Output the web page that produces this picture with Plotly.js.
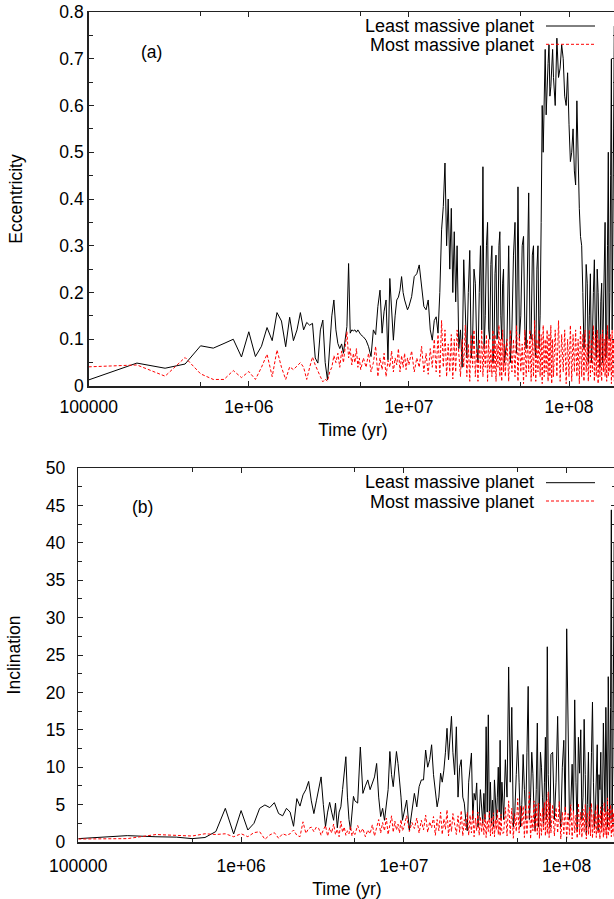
<!DOCTYPE html>
<html><head><meta charset="utf-8">
<script src="https://cdn.plot.ly/plotly-3.0.1.min.js"></script>
<style>
html,body{margin:0;padding:0;overflow:hidden;background:#fff;width:614px;height:899px}
#chart{width:640px;height:899px}
</style></head>
<body><div id="chart"></div>
<script>
// Time samples in Myr
const timeMyr = [
 0.1,0.2,0.3,0.4,0.5,0.6,0.7,0.8,0.9,1.0,1.1,1.2,1.3,1.4,1.5,1.6,1.7,1.8,1.9,2.0,2.1,2.2,2.3,2.4,2.5,2.6,2.7,2.8,2.9,3.0,
 3.1,3.2,3.3,3.4,3.5,3.6,3.7,3.8,3.9,4.0,4.1,4.2,4.3,4.4,4.5,4.6,4.7,4.8,4.9,5.0,
 5.2,5.4,5.6,5.8,6.0,6.2,6.4,6.6,6.8,7.0,7.2,7.4,7.6,7.8,8.0,8.2,8.4,8.6,8.8,9.0,9.2,9.4,9.6,9.8,10.0,
 10.4,10.8,11.2,11.6,12.0,12.4,12.8,13.2,13.6,14.0,14.4,14.8,15.2,15.6,16.0,16.4,16.8,17.2,17.6,18.0,18.4,18.8,19.2,19.6,20.0,
 20.5,21,21.5,22,22.5,23,23.5,24,24.5,25,25.5,26,26.5,27,27.5,28,28.5,29,29.5,30,
 30.5,31,31.5,32,32.5,33,33.5,34,34.5,35,35.5,36,36.5,37,37.5,38,38.5,39,39.5,40,
 41,42,43,44,45,46,47,48,49,50,51,52,53,54,55,56,57,58,59,60,
 61,62,63,64,65,66,67,68,69,70,71,72,73,74,75,76,77,78,79,80,
 82,84,86,88,90,92,94,96,98,100,102,104,106,108,110,112,114,116,118,120,
 122,124,126,128,130,132,134,136,138,140,142,144,146,148,150,152,154,156,158,160,
 162,164,166,168,170,172,174,176,178,180,182,184,186,188,190,192,194,196,198,200
];
// (a) Eccentricity
const eccLeast = [
 0.013,0.049,0.038,0.047,0.086,0.081,0.091,0.100,0.062,0.116,0.063,0.085,0.125,0.097,0.157,0.139,0.084,0.147,0.097,0.12,0.157,0.12,0.136,0.13,0.134,0.06,0.049,0.12,0.141,0.05,
 0.013,0.09,0.15,0.184,0.12,0.091,0.08,0.09,0.07,0.1,0.127,0.262,0.113,0.12,0.118,0.12,0.115,0.12,0.113,0.11,
 0.105,0.098,0.084,0.063,0.12,0.11,0.17,0.205,0.113,0.16,0.184,0.056,0.23,0.15,0.098,0.15,0.184,0.19,0.205,0.234,0.2,0.184,0.17,0.163,0.17,
 0.191,0.234,0.24,0.259,0.212,0.17,0.163,0.184,0.12,0.098,0.14,0.148,0.113,0.2,0.334,0.384,0.477,0.3,0.4,0.25,0.38,0.2,0.33,0.18,0.3,
 0.08,0.12,0.04,0.27,0.15,0.06,0.2,0.29,0.06,0.1,0.25,0.22,0.09,0.05,0.2,0.3,0.12,0.469,0.08,0.15,
 0.3,0.35,0.12,0.1,0.26,0.3,0.05,0.08,0.24,0.28,0.1,0.12,0.3,0.33,0.15,0.1,0.22,0.25,0.05,0.07,
 0.1,0.3,0.05,0.12,0.28,0.35,0.07,0.426,0.1,0.15,0.3,0.32,0.12,0.08,0.25,0.413,0.12,0.1,0.28,0.3,
 0.1,0.06,0.25,0.3,0.08,0.15,0.35,0.6,0.5,0.65,0.72,0.58,0.62,0.69,0.73,0.62,0.64,0.7,0.72,0.66,
 0.6,0.744,0.66,0.68,0.73,0.7,0.62,0.6,0.67,0.56,0.48,0.5,0.55,0.46,0.43,0.61,0.45,0.38,0.32,0.3,
 0.2,0.08,0.12,0.26,0.22,0.05,0.15,0.24,0.05,0.1,0.2,0.27,0.12,0.06,0.25,0.2,0.1,0.04,0.18,0.22,
 0.05,0.15,0.25,0.35,0.06,0.12,0.3,0.5,0.1,0.2,0.45,0.7,0.12,0.3,0.55,0.77,0.2,0.4,0.6,0.75
];
const eccMost = [
 0.041,0.045,0.021,0.061,0.026,0.014,0.014,0.033,0.018,0.031,0.014,0.04,0.068,0.02,0.077,0.04,0.014,0.041,0.035,0.042,0.05,0.04,0.014,0.04,0.062,0.045,0.03,0.02,0.009,0.015,
 0.01,0.03,0.04,0.065,0.05,0.07,0.04,0.075,0.05,0.09,0.116,0.06,0.08,0.045,0.07,0.05,0.08,0.04,0.06,0.035,
 0.06,0.04,0.07,0.03,0.05,0.085,0.02,0.06,0.035,0.07,0.02,0.055,0.04,0.075,0.03,0.06,0.045,0.08,0.03,0.065,0.04,0.07,0.035,0.06,0.045,
 0.075,0.03,0.06,0.04,0.085,0.03,0.07,0.025,0.08,0.04,0.1,0.03,0.11,0.02,0.14,0.04,0.12,0.02,0.09,0.03,0.11,0.015,0.1,0.03,0.12,
 0.06,0.02,0.1,0.04,0.13,0.02,0.09,0.01,0.11,0.04,0.12,0.02,0.08,0.01,0.1,0.03,0.12,0.02,0.09,0.04,
 0.11,0.01,0.1,0.03,0.08,0.02,0.12,0.03,0.11,0.01,0.09,0.04,0.13,0.02,0.1,0.01,0.12,0.03,0.09,0.02,
 0.1,0.01,0.12,0.03,0.1,0.02,0.13,0.01,0.11,0.03,0.09,0.005,0.12,0.02,0.1,0.03,0.12,0.01,0.11,0.02,
 0.14,0.01,0.1,0.03,0.12,0.02,0.11,0.005,0.13,0.02,0.1,0.03,0.12,0.01,0.11,0.02,0.13,0.005,0.1,0.02,
 0.12,0.02,0.14,0.01,0.11,0.03,0.12,0.005,0.1,0.02,0.13,0.01,0.11,0.03,0.12,0.02,0.1,0.005,0.13,0.02,
 0.11,0.01,0.12,0.03,0.09,0.01,0.12,0.02,0.1,0.03,0.13,0.01,0.11,0.02,0.12,0.005,0.1,0.02,0.11,0.01,
 0.12,0.03,0.1,0.02,0.11,0.01,0.13,0.02,0.1,0.03,0.11,0.005,0.12,0.02,0.1,0.01,0.11,0.03,0.1,0.02
];
// (b) Inclination
const incLeast = [
 0.45,0.85,0.7,0.65,0.45,0.6,1.4,4.5,1.07,4.2,1.6,2.5,4.5,4.95,4.6,5.26,3.8,3.5,4.5,4.0,2.1,5.8,4.8,6.3,7.0,8.1,5.5,3.8,5.5,7.4,
 8.7,5.0,2.05,4.0,5.3,4.0,2.9,5.2,1.9,4.0,4.7,7.0,9.0,11.4,6.0,3.0,1.6,4.0,6.1,5.5,
 5.2,12.7,6.5,7.5,8.3,7.0,8.0,8.7,10.5,6.0,3.4,4.5,2.9,5.0,7.0,12.1,9.0,7.4,10.0,12.1,10.5,8.3,6.0,2.9,4.0,
 5.6,1.6,4.5,6.5,4.7,7.4,8.3,8.3,12.3,10.0,11.0,13.0,9.0,6.5,4.7,6.0,9.2,8.0,9.6,12.0,15.2,11.0,14.5,16.8,12.0,
 9.0,15.4,6.0,10.0,11.0,6.0,5.2,2.9,1.5,8.0,10.0,11.9,3.0,6.5,5.6,7.9,2.0,3.4,7.0,5.0,
 2.5,6.5,3.0,15.4,4.0,17.0,3.0,8.0,2.5,5.6,2.0,8.3,5.0,3.0,6.0,10.0,4.0,13.6,3.0,8.0,
 3.0,11.0,6.0,23.4,8.0,18.0,2.0,4.0,9.0,13.6,8.0,2.0,5.0,11.7,7.0,3.0,12.0,20.8,3.0,6.0,
 12.0,9.2,4.0,1.5,7.0,15.9,2.0,5.0,12.0,10.0,6.0,2.5,8.0,14.0,3.0,26.1,9.0,4.0,2.0,11.7,
 12.0,3.0,8.0,16.8,5.0,2.0,10.0,13.6,4.0,28.5,14.0,3.0,5.0,10.4,4.0,19.0,8.0,1.5,14.0,9.2,
 15.0,3.0,6.0,16.4,9.0,1.0,5.0,12.0,2.0,4.7,12.0,18.7,8.0,2.0,4.0,10.0,13.0,1.5,9.0,7.0,
 12.0,2.0,5.0,15.9,11.0,4.0,18.0,12.0,2.0,22.1,8.0,3.0,18.0,44.4,3.0,10.0,25.0,40.0,5.0,20.0
];
const incMost = [
 0.4,0.45,1.0,0.85,0.8,1.1,1.0,1.1,0.7,1.1,0.71,1.25,1.38,0.36,0.94,1.25,0.5,1.1,0.9,1.1,1.6,0.9,0.7,2.7,1.16,1.8,2.0,1.38,2.0,1.8,
 0.9,1.6,2.2,0.8,1.9,1.2,2.4,1.0,1.7,0.7,2.8,1.3,2.0,0.9,1.5,1.1,2.1,0.8,1.4,1.0,
 2.2,1.2,1.8,0.7,1.6,1.1,2.3,0.8,1.9,3.0,1.2,2.6,1.5,3.2,1.0,2.2,3.5,1.3,2.8,1.6,2.4,1.2,3.0,1.5,2.0,
 3.5,1.4,2.6,1.8,3.2,1.2,2.9,1.6,3.6,1.3,2.7,1.9,3.4,0.9,3.0,1.5,4.0,1.0,3.1,1.7,4.3,0.8,2.9,1.4,3.8,
 2.5,1.0,3.5,1.3,4.2,0.8,3.0,1.6,4.0,0.9,3.6,1.2,4.3,0.7,3.2,1.5,4.0,0.9,3.4,1.3,
 3.0,1.0,3.8,0.6,2.9,1.4,4.1,0.8,3.3,1.1,3.9,0.7,3.0,1.6,4.4,1.0,3.2,0.8,3.7,1.2,
 1.2,4.6,0.8,5.5,1.0,4.5,0.5,3.8,1.4,5.8,1.2,4.8,2.0,4.8,0.6,5.0,1.0,4.2,6.7,0.4,
 3.5,1.5,5.5,1.3,5.0,1.0,5.2,0.5,4.0,0.9,4.6,1.6,5.3,0.8,5.6,1.1,6.7,0.6,5.2,1.2,
 5.0,0.8,4.6,1.2,5.4,0.4,4.0,1.1,4.8,0.5,3.8,1.0,5.0,0.4,4.2,1.2,3.6,0.5,5.2,1.0,
 4.0,0.6,4.4,1.3,5.0,0.4,3.9,1.0,4.6,0.8,5.2,0.5,3.7,1.2,4.3,0.6,5.0,1.1,3.8,0.4,
 4.7,1.3,4.0,0.6,5.3,1.0,4.1,0.5,5.9,0.8,4.4,1.5,5.0,0.7,4.5,1.2,3.9,0.6,4.8,1.0
];
const seriesNames = ['Least massive planet', 'Most massive planet'];
const panelLabels = ['(a)', '(b)'];
const xTickVals = [1e5, 1e6, 1e7, 1e8];
const xTickText = ['100000', '1e+06', '1e+07', '1e+08'];
const xMinorVals = [5e5, 5e6, 5e7];

const time = timeMyr.map(v => v * 1e6);

const W = 640, H = 899;
const px = v => v / W;
const py = v => 1 - v / H;
const FONT = {family: '"Liberation Sans", Arial, Helvetica, sans-serif', size: 17.5, color: '#000'};
const LEGFONT = {family: '"Liberation Sans", Arial, Helvetica, sans-serif', size: 18, color: '#000'};
const LINECOL = '#222';
const blackLine = {color: '#000', width: 1};
const redLine = {color: '#ff0000', width: 1, dash: '3px,2px'};

const axBase = {
  showline: true, linecolor: LINECOL, linewidth: 1.5, mirror: 'ticks',
  ticks: 'inside', ticklen: 5, tickwidth: 1, tickcolor: LINECOL,
  showgrid: false, zeroline: false, tickfont: FONT, fixedrange: true
};
const xBase = Object.assign({}, axBase, {
  type: 'log', range: [5, Math.log10(2e8)],
  tickmode: 'array', tickvals: xTickVals, ticktext: xTickText,
  minor: {tickmode: 'array', tickvals: xMinorVals, ticks: 'inside', ticklen: 4, tickcolor: LINECOL}
});

const traces = [
  {x: time, y: eccLeast, xaxis: 'x', yaxis: 'y', type: 'scatter', mode: 'lines', line: blackLine, name: seriesNames[0], showlegend: false},
  {x: time, y: eccMost, xaxis: 'x', yaxis: 'y', type: 'scatter', mode: 'lines', line: redLine, name: seriesNames[1], showlegend: false},
  {x: time, y: incLeast, xaxis: 'x2', yaxis: 'y2', type: 'scatter', mode: 'lines', line: blackLine, name: seriesNames[0], showlegend: false},
  {x: time, y: incMost, xaxis: 'x2', yaxis: 'y2', type: 'scatter', mode: 'lines', line: redLine, name: seriesNames[1], showlegend: false}
];

const layout = {
  width: W, height: H,
  margin: {l: 0, r: 0, t: 0, b: 0},
  paper_bgcolor: '#fff', plot_bgcolor: '#fff',
  font: FONT, showlegend: false, hovermode: false,
  xaxis: Object.assign({}, xBase, {domain: [px(88.7), px(617.2)], anchor: 'y', ticklabelstandoff: 4,
    title: {text: 'Time (yr)', font: FONT, standoff: 8}}),
  yaxis: Object.assign({}, axBase, {domain: [py(386), py(12)], anchor: 'x', range: [0, 0.8], dtick: 0.1,
    minor: {dtick: 0.05, ticks: 'inside', ticklen: 4, tickcolor: LINECOL},
    title: {text: 'Eccentricity', font: FONT, standoff: 32}}),
  xaxis2: Object.assign({}, xBase, {domain: [px(78.3), px(615.7)], anchor: 'y2', ticklabelstandoff: 7,
    title: {text: 'Time (yr)', font: FONT, standoff: 8}}),
  yaxis2: Object.assign({}, axBase, {domain: [py(842), py(468)], anchor: 'x2', range: [0, 50], dtick: 5,
    ticklabelstandoff: 8,
    minor: {dtick: 2.5, ticks: 'inside', ticklen: 4, tickcolor: LINECOL},
    title: {text: 'Inclination', font: FONT, standoff: 20}}),
  annotations: [
    {xref: 'paper', yref: 'paper', x: px(536), y: py(26), xanchor: 'right', yanchor: 'middle', text: seriesNames[0], showarrow: false, font: LEGFONT},
    {xref: 'paper', yref: 'paper', x: px(536), y: py(45), xanchor: 'right', yanchor: 'middle', text: seriesNames[1], showarrow: false, font: LEGFONT},
    {xref: 'paper', yref: 'paper', x: px(536), y: py(482), xanchor: 'right', yanchor: 'middle', text: seriesNames[0], showarrow: false, font: LEGFONT},
    {xref: 'paper', yref: 'paper', x: px(536), y: py(501.5), xanchor: 'right', yanchor: 'middle', text: seriesNames[1], showarrow: false, font: LEGFONT},
    {xref: 'paper', yref: 'paper', x: px(151.7), y: py(51.7), xanchor: 'center', yanchor: 'middle', text: panelLabels[0], showarrow: false, font: FONT},
    {xref: 'paper', yref: 'paper', x: px(142.7), y: py(506.7), xanchor: 'center', yanchor: 'middle', text: panelLabels[1], showarrow: false, font: FONT}
  ],
  shapes: [
    {type: 'line', xref: 'paper', yref: 'paper', x0: px(546), x1: px(595), y0: py(26), y1: py(26), line: blackLine},
    {type: 'line', xref: 'paper', yref: 'paper', x0: px(546), x1: px(595), y0: py(44.3), y1: py(44.3), line: redLine},
    {type: 'line', xref: 'paper', yref: 'paper', x0: px(546), x1: px(595), y0: py(482.7), y1: py(482.7), line: blackLine},
    {type: 'line', xref: 'paper', yref: 'paper', x0: px(546), x1: px(595), y0: py(501), y1: py(501), line: redLine}
  ]
};

Plotly.newPlot('chart', traces, layout, {displayModeBar: false, staticPlot: true});
</script>
</body></html>
